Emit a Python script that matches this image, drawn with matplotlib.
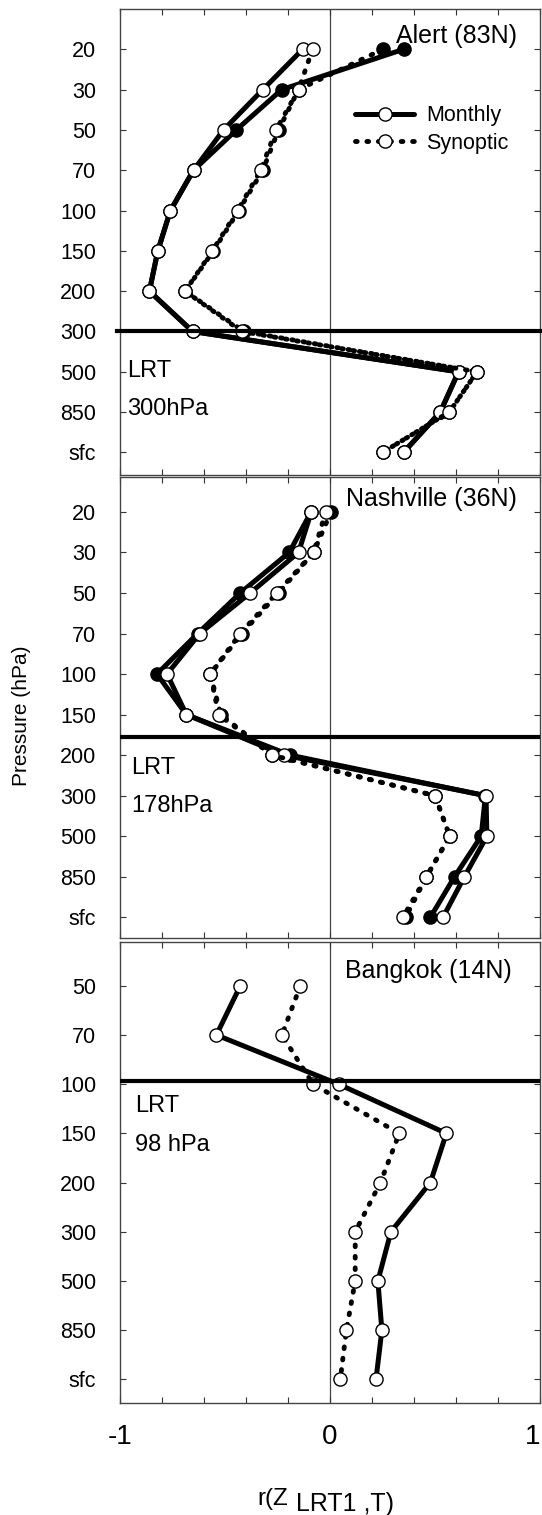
import matplotlib
matplotlib.use("Agg")
import matplotlib.pyplot as plt
from matplotlib.lines import Line2D
import numpy as np

plt.rcParams['font.family'] = ['Liberation Sans', 'DejaVu Sans']

# ---------------- data ----------------
levels_12 = ["20", "30", "50", "70", "100", "150", "200", "300", "500", "850", "sfc"]
levels_3 = ["50", "70", "100", "150", "200", "300", "500", "850", "sfc"]

# Alert (83N)
alert_monthly_a = [-0.13, -0.32, -0.507, -0.65, -0.76, -0.82, -0.86, -0.654, 0.612, 0.525, 0.35]
alert_monthly_b = [0.35, -0.23, -0.446, -0.65, -0.76, -0.82, -0.86, -0.654, 0.612, 0.525, 0.35]
alert_synoptic_a = [-0.083, -0.15, -0.257, -0.33, -0.44, -0.56, -0.69, -0.42, 0.70, 0.568, 0.25]
alert_synoptic_b = [0.252, -0.15, -0.245, -0.32, -0.435, -0.555, -0.69, -0.41, 0.70, 0.568, 0.25]
alert_lrt = 7.0  # position of 300 hPa on category axis

# Nashville (36N)
nash_monthly_a = [-0.089, -0.15, -0.38, -0.62, -0.776, -0.684, -0.218, 0.743, 0.747, 0.64, 0.538]
nash_monthly_b = [-0.09, -0.194, -0.427, -0.63, -0.824, -0.684, -0.19, 0.74, 0.72, 0.593, 0.478]
nash_synoptic_a = [-0.02, -0.078, -0.253, -0.427, -0.57, -0.53, -0.276, 0.50, 0.57, 0.459, 0.347]
nash_synoptic_b = [0.005, -0.078, -0.245, -0.42, -0.57, -0.52, -0.276, 0.50, 0.57, 0.459, 0.36]
nash_lrt = 5.56  # 178 hPa

# Bangkok (14N)
bkk_monthly = [-0.427, -0.541, 0.041, 0.554, 0.478, 0.29, 0.228, 0.247, 0.219]
bkk_synoptic = [-0.141, -0.229, -0.081, 0.33, 0.24, 0.12, 0.12, 0.078, 0.049]
bkk_lrt = 1.93  # 98 hPa

# ---------------- figure ----------------
W, H = 542, 1515
fig = plt.figure(figsize=(W / 100, H / 100), dpi=100)


def ax_rect(top, bottom, left=120, right=540):
    return [left / W, 1 - bottom / H, (right - left) / W, (bottom - top) / H]


solid_kw = dict(color='black', lw=3.6, solid_capstyle='round', solid_joinstyle='round')
dot_kw = dict(color='black', lw=3.5, linestyle=(0, (0.35, 2.0)), dash_capstyle='round')
open_mk = dict(marker='o', ms=9.5, mfc='white', mec='black', mew=1.0)
fill_mk = dict(marker='o', ms=9.5, mfc='black', mec='black', mew=1.0)


def style_axes(ax, labels, ylim, show_x):
    y = np.arange(len(labels))
    ax.set_xlim(-1, 1)
    ax.set_ylim(*ylim)
    ax.set_yticks(y)
    ax.set_yticklabels(labels, fontsize=15.5)
    ax.set_xticks(np.round(np.arange(-1, 1.01, 0.2), 2))
    if show_x:
        ax.set_xticklabels(['-1', '', '', '', '', '0', '', '', '', '', '1'], fontsize=20)
        ax.get_xticklabels()[-1].set_horizontalalignment('right')
    else:
        ax.set_xticklabels([])
    ax.tick_params(axis='both', direction='in', length=4.5, width=0.8, color='#333333',
                   top=True, right=True)
    ax.tick_params(axis='y', pad=17)
    ax.tick_params(axis='x', pad=15)
    for s in ax.spines.values():
        s.set_color('#444444')
        s.set_linewidth(1.0)
    ax.axvline(0, color='#444444', lw=0.9, zorder=1)


def text_block(ax, title, tx, ty, lrt_lbl, lx, ly1, ly2):
    ax.text(tx, ty, title, transform=ax.transAxes, ha='right', va='baseline', fontsize=18)
    ax.text(lx, ly1, 'LRT', transform=ax.transAxes, ha='left', va='baseline', fontsize=17)
    ax.text(lx, ly2, lrt_lbl, transform=ax.transAxes, ha='left', va='baseline', fontsize=17)


# Panel 1 - Alert
ax1 = fig.add_axes(ax_rect(9, 475))
y1 = np.arange(len(levels_12))
ax1.plot(alert_monthly_b, y1, **solid_kw, **fill_mk, zorder=3)
ax1.plot(alert_synoptic_b, y1, **dot_kw, **fill_mk, zorder=3)
ax1.plot(alert_monthly_a, y1, **solid_kw, **open_mk, zorder=4)
ax1.plot(alert_synoptic_a, y1, **dot_kw, **open_mk, zorder=4)
ax1.axhline(alert_lrt, color='black', lw=3.0, zorder=5, xmin=-0.007, clip_on=False)
style_axes(ax1, levels_12, (10.56, -1.0), False)
text_block(ax1, 'Alert (83N)', 0.945, 0.927, '300hPa', 0.017, 0.210, 0.129)
handles = [Line2D([], [], **solid_kw, **open_mk), Line2D([], [], **dot_kw, **open_mk)]
ax1.legend(handles, ['Monthly', 'Synoptic'], loc='center left', bbox_to_anchor=(0.56, 0.741),
           frameon=False, fontsize=15.5, handlelength=2.75, handletextpad=0.55,
           labelspacing=0.3, borderpad=0, borderaxespad=0, numpoints=1)

# Panel 2 - Nashville
ax2 = fig.add_axes(ax_rect(477, 938))
y2 = np.arange(len(levels_12))
ax2.plot(nash_monthly_b, y2, **solid_kw, **fill_mk, zorder=3)
ax2.plot(nash_synoptic_b, y2, **dot_kw, **fill_mk, zorder=3)
ax2.plot(nash_monthly_a, y2, **solid_kw, **open_mk, zorder=4)
ax2.plot(nash_synoptic_a, y2, **dot_kw, **open_mk, zorder=4)
ax2.axhline(nash_lrt, color='black', lw=3.0, zorder=5)
style_axes(ax2, levels_12, (10.51, -0.86), False)
text_block(ax2, 'Nashville (36N)', 0.945, 0.937, '178hPa', 0.026, 0.356, 0.273)

# Panel 3 - Bangkok
ax3 = fig.add_axes(ax_rect(942, 1403))
y3 = np.arange(len(levels_3))
ax3.plot(bkk_monthly, y3, **solid_kw, **open_mk, zorder=4)
ax3.plot(bkk_synoptic, y3, **dot_kw, **open_mk, zorder=4)
ax3.axhline(bkk_lrt, color='black', lw=3.0, zorder=5)
style_axes(ax3, levels_3, (8.48, -0.89), True)
text_block(ax3, 'Bangkok (14N)', 0.933, 0.922, '98 hPa', 0.036, 0.631, 0.547)

# axis labels
fig.text(22 / W, 1 - 716 / H, 'Pressure (hPa)', rotation=90, ha='center', va='center', fontsize=15)
fig.text(288 / W, 1 - 1505 / H, 'r(Z', ha='right', va='baseline', fontsize=17.5)
fig.text(296 / W, 1 - 1511 / H, 'LRT1 ,T)', ha='left', va='baseline', fontsize=18)

fig.savefig('out.png', dpi=100)
